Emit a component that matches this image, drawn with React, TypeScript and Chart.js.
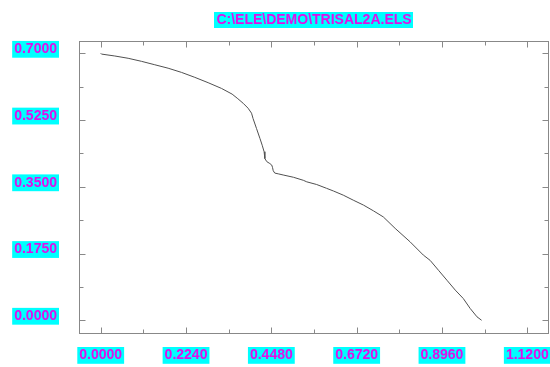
import React, { useEffect, useRef } from 'react';
import { Chart, registerables } from 'chart.js';

Chart.register(...registerables);

const TITLE = 'C:\\ELE\\DEMO\\TRISAL2A.ELS';

const xValues = [
  0, 0.002, 0.037, 0.072, 0.107, 0.142, 0.177, 0.212, 0.247, 0.282, 0.317, 0.345,
  0.36, 0.374, 0.387, 0.396, 0.4, 0.409, 0.418, 0.424, 0.429, 0.431, 0.436, 0.444,
  0.449, 0.451, 0.453, 0.457, 0.466, 0.479, 0.506, 0.532, 0.541, 0.567, 0.593, 0.611,
  0.637, 0.663, 0.69, 0.716, 0.742, 0.773, 0.812, 0.847, 0.865, 0.887, 0.909, 0.931,
  0.952, 0.97, 0.988, 1.0,
];
const yValues = [
  0.7, 0.698, 0.693, 0.687, 0.679, 0.67, 0.661, 0.65, 0.637, 0.623, 0.608, 0.593,
  0.581, 0.569, 0.556, 0.543, 0.529, 0.503, 0.477, 0.459, 0.442, 0.424, 0.416, 0.411,
  0.407, 0.401, 0.392, 0.386, 0.384, 0.381, 0.375, 0.367, 0.363, 0.356, 0.346, 0.339,
  0.328, 0.315, 0.302, 0.287, 0.271, 0.241, 0.206, 0.171, 0.157, 0.131, 0.105, 0.079,
  0.057, 0.031, 0.009, 0.0,
];

const xTicks = [0, 0.224, 0.448, 0.672, 0.896, 1.12];
const yTicks = [0, 0.175, 0.35, 0.525, 0.7];

const X_MIN = -0.057;
const X_MAX = 1.177;
const Y_MIN = -0.036;
const Y_MAX = 0.7323;

const FONT_FAMILY = '"Liberation Sans", Arial, sans-serif';
const LABEL_BG = '#00FFFF';
const LABEL_FG = '#E010E8';
const FRAME = '#888888';

const midpoints = (arr: number[]) => arr.slice(1).map((v, i) => (v + arr[i]) / 2);

const framePlugin = {
  id: 'framePlugin',
  afterDatasetsDraw(chart: any) {
    const { ctx, chartArea: a, scales } = chart;
    const xs = scales.x;
    const ys = scales.y;
    ctx.save();
    ctx.strokeStyle = FRAME;
    ctx.lineWidth = 1;
    const L = Math.round(a.left) + 0.5;
    const R = Math.round(a.right) - 0.5;
    const T = Math.round(a.top) + 0.5;
    const B = Math.round(a.bottom) - 0.5;
    ctx.strokeRect(L, T, R - L, B - T);
    ctx.beginPath();
    const drawX = (v: number, len: number) => {
      const p = Math.round(xs.getPixelForValue(v)) + 0.5;
      ctx.moveTo(p, B);
      ctx.lineTo(p, B - len);
      ctx.moveTo(p, T);
      ctx.lineTo(p, T + len);
    };
    const drawY = (v: number, len: number) => {
      const p = Math.round(ys.getPixelForValue(v)) + 0.5;
      ctx.moveTo(L, p);
      ctx.lineTo(L + len, p);
      ctx.moveTo(R, p);
      ctx.lineTo(R - len, p);
    };
    xTicks.forEach((v) => drawX(v, 6));
    midpoints(xTicks).forEach((v) => drawX(v, 4));
    yTicks.forEach((v) => drawY(v, 6));
    midpoints(yTicks).forEach((v) => drawY(v, 4));
    ctx.stroke();

    // title
    ctx.font = `bold 14px ${FONT_FAMILY}`;
    const w = ctx.measureText(TITLE).width;
    const cx = (a.left + a.right) / 2;
    const cy = 19.5;
    ctx.fillStyle = LABEL_BG;
    ctx.fillRect(Math.round(cx - w / 2 - 2), 12, Math.round(w + 4), 16);
    ctx.fillStyle = LABEL_FG;
    ctx.textAlign = 'center';
    ctx.textBaseline = 'middle';
    ctx.fillText(TITLE, cx, cy + 0.5);
    ctx.restore();
  },
};

export default function App() {
  const ref = useRef<HTMLCanvasElement | null>(null);

  useEffect(() => {
    if (!ref.current) return;
    const tickCommon = {
      color: LABEL_FG,
      font: { family: FONT_FAMILY, size: 14, weight: 'bold' as const },
      showLabelBackdrop: true,
      backdropColor: LABEL_BG,
      backdropPadding: { top: 0, bottom: 0, left: 2, right: 2 },
      autoSkip: false,
      maxRotation: 0,
      callback: (v: any) => Number(v).toFixed(4),
    };
    const chart = new Chart(ref.current, {
      type: 'scatter',
      data: {
        datasets: [
          {
            data: xValues.map((x, i) => ({ x, y: yValues[i] })),
            showLine: true,
            borderColor: '#505050',
            borderWidth: 1,
            pointRadius: 0,
            tension: 0,
          },
        ],
      },
      options: {
        animation: false,
        responsive: false,
        layout: { padding: { top: 41, right: 1, left: 0, bottom: 0 } },
        plugins: {
          legend: { display: false },
          title: { display: false },
          tooltip: { enabled: false },
        },
        scales: {
          x: {
            type: 'linear',
            min: X_MIN,
            max: X_MAX,
            grid: { display: false, drawTicks: false },
            border: { display: false },
            afterBuildTicks: (s: any) => {
              s.ticks = xTicks.map((value) => ({ value }));
            },
            afterFit: (s: any) => {
              s.height = 33;
              s.paddingLeft = 0;
              s.paddingRight = 0;
              s.paddingTop = 0;
              s.paddingBottom = 0;
            },
            ticks: { ...tickCommon, padding: 13 },
          },
          y: {
            type: 'linear',
            min: Y_MIN,
            max: Y_MAX,
            grid: { display: false, drawTicks: false },
            border: { display: false },
            afterBuildTicks: (s: any) => {
              s.ticks = yTicks.map((value) => ({ value }));
            },
            afterFit: (s: any) => {
              s.width = 79;
              s.paddingLeft = 0;
              s.paddingRight = 0;
              s.paddingTop = 0;
              s.paddingBottom = 0;
            },
            ticks: { ...tickCommon, padding: 22, labelOffset: -4 },
          },
        },
      },
      plugins: [framePlugin],
    });
    return () => chart.destroy();
  }, []);

  return (
    <div style={{ position: 'absolute', left: 0, top: 0, width: 550, height: 367, background: '#fff' }}>
      <canvas ref={ref} width={550} height={367} style={{ display: 'block' }} />
    </div>
  );
}
